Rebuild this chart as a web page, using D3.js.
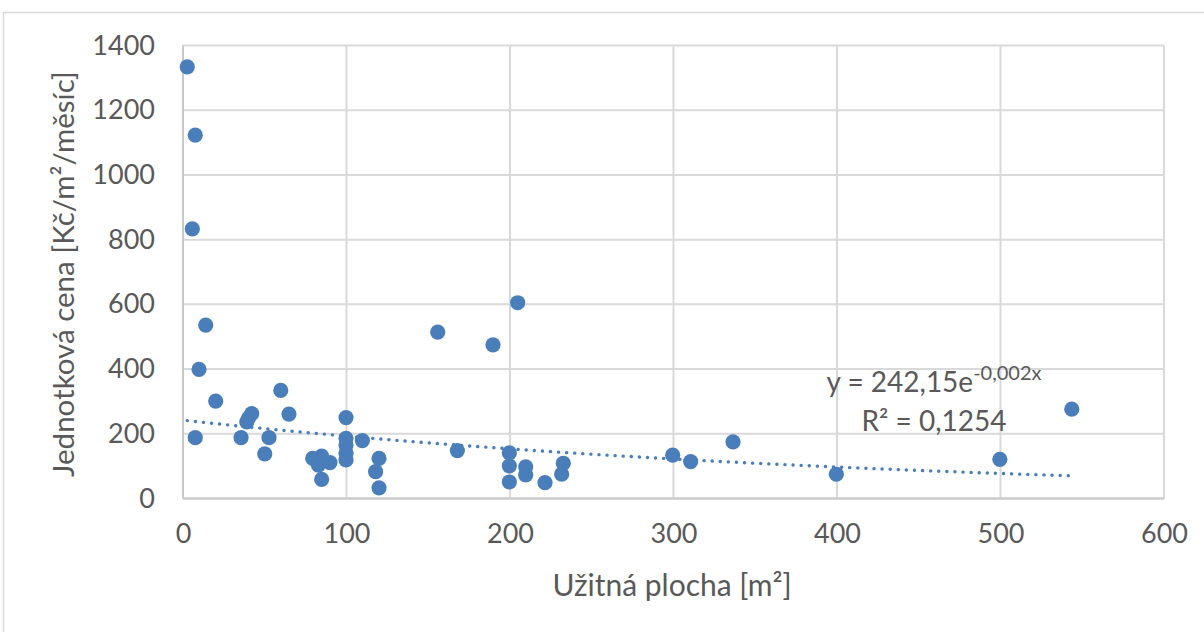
<!DOCTYPE html>
<html><head><meta charset="utf-8">
<script src="https://cdn.jsdelivr.net/npm/d3@7"></script>
<style>body{margin:0;background:#fff}svg{display:block}text{font-family:Lato,"Open Sans",sans-serif;fill:#595959}</style>
</head><body>
<svg id="c" width="1204" height="632"></svg>
<script>
const areaX = [2.6,7.5,5.7,13.9,9.8,20,7.5,35.5,42,40,39,52.6,50,59.8,64.8,79.3,84.8,82.8,89.9,84.8,99.7,99.7,99.7,99.7,99.7,109.7,119.9,117.8,119.9,204.7,155.8,189.6,167.8,199.6,199.6,199.6,209.6,209.6,221.4,232.6,231.6,299.5,310.5,336.4,399.6,499.6,543.6];
const priceY = [1334,1123,833,536,399,301,188,188,262,248,237,188,138,334,261,124,131,103,111,59,250,186,165,140,119,179,124,83,33,605,514,475,148,141,101,51,98,73,49,109,75,134,114,175,75,121,276];
const xTicks = [0,100,200,300,400,500,600];
const yTicks = [0,200,400,600,800,1000,1200,1400];
const trendA = 242.15, trendB = -0.00228;
const eqText = ["y = 242,15e", "-0,002x"];
const r2Text = "R² = 0,1254";
const xTitle = "Užitná plocha [m²]";
const yTitle = "Jednotková cena [Kč/m²/měsíc]";

const svg = d3.select("#c");
const blue = "#4a7ebb", grid = "#d9d9d9";
svg.append("rect").attr("x",3.5).attr("y",12.5).attr("width",1220).attr("height",640).attr("fill","none").attr("stroke",grid).attr("stroke-width",1.5);

const x = d3.scaleLinear().domain([0,600]).range([183,1164]);
const y = d3.scaleLinear().domain([0,1400]).range([498.5,45.5]);

const g = svg.append("g");
g.selectAll(".gy").data(yTicks).join("line").attr("x1",x(0)).attr("x2",x(600)).attr("y1",d=>y(d)).attr("y2",d=>y(d)).attr("stroke",grid).attr("stroke-width",2);
g.selectAll(".gx").data(xTicks).join("line").attr("y1",y(0)).attr("y2",y(1400)).attr("x1",d=>x(d)).attr("x2",d=>x(d)).attr("stroke",grid).attr("stroke-width",2);
g.append("line").attr("x1",x(0)).attr("x2",x(600)).attr("y1",y(0)).attr("y2",y(0)).attr("stroke","#c8c8c8").attr("stroke-width",2);
g.append("line").attr("x1",x(0)).attr("x2",x(0)).attr("y1",y(0)).attr("y2",y(1400)).attr("stroke","#c8c8c8").attr("stroke-width",2);

const fmt = d3.format("d");
const yAxis = d3.axisLeft(y).tickValues(yTicks).tickFormat(fmt).tickSize(0).tickPadding(28);
const ya = svg.append("g").attr("transform",`translate(${x(0)},0)`).call(yAxis);
const xAxis = d3.axisBottom(x).tickValues(xTicks).tickFormat(fmt).tickSize(0).tickPadding(25);
const xa = svg.append("g").attr("transform",`translate(0,${y(0)})`).call(xAxis);
[ya,xa].forEach(a=>{a.select(".domain").remove();a.selectAll("text").style("font-family","Lato,sans-serif").style("font-size","27px").attr("fill","#595959");});

const xmin = d3.min(areaX), xmax = d3.max(areaX);
const tdata = d3.range(0,201).map(i=>xmin+(xmax-xmin)*i/200);
svg.append("path").datum(tdata).attr("d",d3.line().x(d=>x(d)).y(d=>y(trendA*Math.exp(trendB*d))))
  .attr("fill","none").attr("stroke",blue).attr("stroke-width",3.4).attr("stroke-linecap","round").attr("stroke-dasharray","0.1 8");

svg.selectAll(".pt").data(areaX).join("circle").attr("cx",d=>x(d)).attr("cy",(d,i)=>y(priceY[i])).attr("r",7.6).attr("fill",blue);

const eq = svg.append("text").attr("x",934).attr("y",392).attr("text-anchor","middle").style("font-size","28px");
eq.append("tspan").text(eqText[0]);
eq.append("tspan").attr("dy",-12).style("font-size","20px").text(eqText[1]);
svg.append("text").attr("x",934).attr("y",431).attr("text-anchor","middle").style("font-size","28px").text(r2Text);

svg.append("text").attr("x",672).attr("y",596).attr("text-anchor","middle").style("font-size","30px").text(xTitle);
svg.append("text").attr("transform","translate(74,274) rotate(-90)").attr("text-anchor","middle").style("font-size","29.5px").text(yTitle);
</script>
</body></html>
